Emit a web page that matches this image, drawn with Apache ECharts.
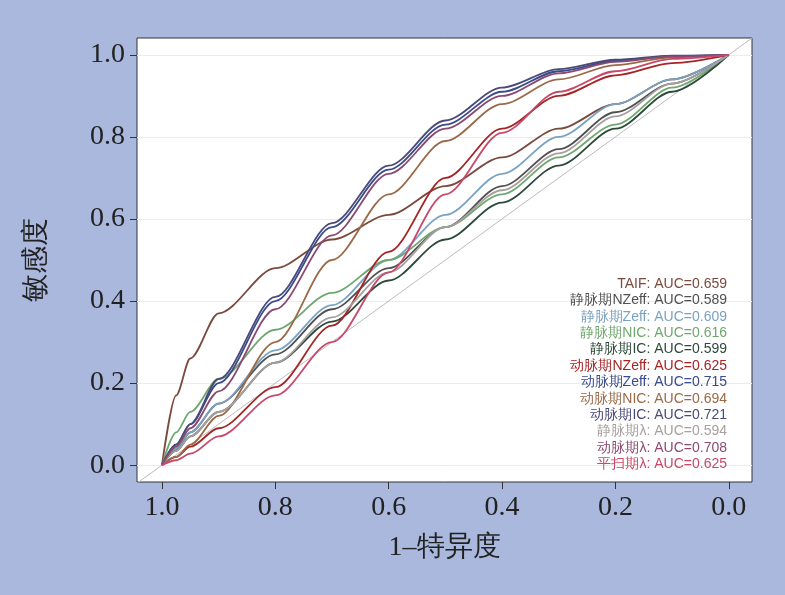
<!DOCTYPE html>
<html><head><meta charset="utf-8">
<script src="https://cdn.jsdelivr.net/npm/echarts@6/dist/echarts.min.js"></script>
<style>html,body{margin:0;padding:0;background:#aab8de}#c{width:785px;height:595px}</style>
</head><body><div id="c"></div>
<script>
// x = 1-特异度 grid shared by all curves
const xs = [1, 0.975, 0.95, 0.9, 0.8, 0.7, 0.6, 0.5, 0.4, 0.3, 0.2, 0.1, 0];
const names = ['TAIF: AUC=0.659', '静脉期NZeff: AUC=0.589', '静脉期Zeff: AUC=0.609', '静脉期NIC: AUC=0.616',
  '静脉期IC: AUC=0.599', '动脉期NZeff: AUC=0.625', '动脉期Zeff: AUC=0.715', '动脉期NIC: AUC=0.694',
  '动脉期IC: AUC=0.721', '静脉期λ: AUC=0.594', '动脉期λ: AUC=0.708', '平扫期λ: AUC=0.625'];
const colors = ['#7a4a3c', '#505050', '#7aa2c2', '#6fa86f', '#2c4a3a', '#a52424', '#3a4a8c', '#9a6a48',
  '#4a4a78', '#a8a0a0', '#8a4a70', '#c8486a'];
const ys = [
  [0, 0.17, 0.26, 0.37, 0.48, 0.55, 0.61, 0.68, 0.75, 0.82, 0.88, 0.94, 1],
  [0, 0.04, 0.08, 0.15, 0.27, 0.38, 0.48, 0.58, 0.68, 0.77, 0.86, 0.93, 1],
  [0, 0.04, 0.08, 0.15, 0.28, 0.39, 0.50, 0.61, 0.71, 0.80, 0.88, 0.94, 1],
  [0, 0.08, 0.13, 0.21, 0.33, 0.42, 0.50, 0.58, 0.66, 0.75, 0.83, 0.92, 1],
  [0, 0.035, 0.07, 0.13, 0.25, 0.35, 0.45, 0.55, 0.64, 0.73, 0.82, 0.91, 1],
  [0, 0.02, 0.045, 0.09, 0.19, 0.34, 0.52, 0.70, 0.82, 0.90, 0.95, 0.98, 1],
  [0, 0.05, 0.10, 0.20, 0.40, 0.58, 0.72, 0.83, 0.91, 0.96, 0.985, 0.997, 1],
  [0, 0.02, 0.05, 0.12, 0.30, 0.50, 0.66, 0.79, 0.88, 0.94, 0.975, 0.994, 1],
  [0, 0.05, 0.10, 0.21, 0.41, 0.59, 0.73, 0.84, 0.92, 0.965, 0.988, 0.998, 1],
  [0, 0.035, 0.07, 0.13, 0.25, 0.36, 0.47, 0.58, 0.67, 0.76, 0.85, 0.93, 1],
  [0, 0.045, 0.09, 0.18, 0.38, 0.56, 0.71, 0.82, 0.90, 0.955, 0.983, 0.996, 1],
  [0, 0.012, 0.028, 0.07, 0.17, 0.30, 0.47, 0.66, 0.81, 0.91, 0.96, 0.99, 1]
];
const ticks = [0, 0.2, 0.4, 0.6, 0.8, 1];

const chart = echarts.init(document.getElementById('c'));
const serif = 'Liberation Serif, Times New Roman, serif';
const series = names.map((n, i) => ({
  name: n, type: 'line', smooth: 0.3, smoothMonotone: 'x', symbol: 'none', z: 3,
  lineStyle: { color: colors[i], width: 1.8 }, itemStyle: { color: colors[i] },
  data: xs.map((x, j) => [x, ys[i][j]])
}));
series.unshift({ name: 'ref', type: 'line', symbol: 'none', z: 2, silent: true,
  lineStyle: { color: '#bbbbbb', width: 1 }, data: [[1.05, -0.05], [-0.05, 1.05]] });

const axisCommon = {
  type: 'value', nameLocation: 'middle',
  nameTextStyle: { fontFamily: serif, fontSize: 28, color: '#222' },
  axisLine: { show: false, onZero: false },
  axisTick: { show: true, customValues: ticks, length: 7, lineStyle: { color: '#333' } },
  axisLabel: { customValues: ticks, fontFamily: serif, fontSize: 28, color: '#222', formatter: v => v.toFixed(1), margin: 12 }
};
chart.setOption({
  animation: false,
  grid: { left: 137, right: 33, top: 38, bottom: 113, show: true, backgroundColor: '#fff', borderColor: '#333', borderWidth: 1 },
  xAxis: Object.assign({}, axisCommon, {
    inverse: true, min: -0.041, max: 1.044, name: '1–特异度', nameGap: 52,
    splitLine: { show: false }
  }),
  yAxis: Object.assign({}, axisCommon, {
    min: -0.041, max: 1.041, name: '敏感度', nameGap: 86,
    splitLine: { show: true, lineStyle: { color: '#ececec' } }
  }),
  legend: {
    data: names.map((n, i) => ({ name: n, textStyle: { color: colors[i] } })),
    orient: 'vertical', right: 48, top: 272, align: 'right', itemGap: 2.4,
    icon: 'none', itemWidth: 0, itemHeight: 14,
    textStyle: { fontSize: 14, fontFamily: 'Liberation Sans, Arial, sans-serif', padding: 0 },
    selectedMode: false
  },
  series: series
});
</script></body></html>
